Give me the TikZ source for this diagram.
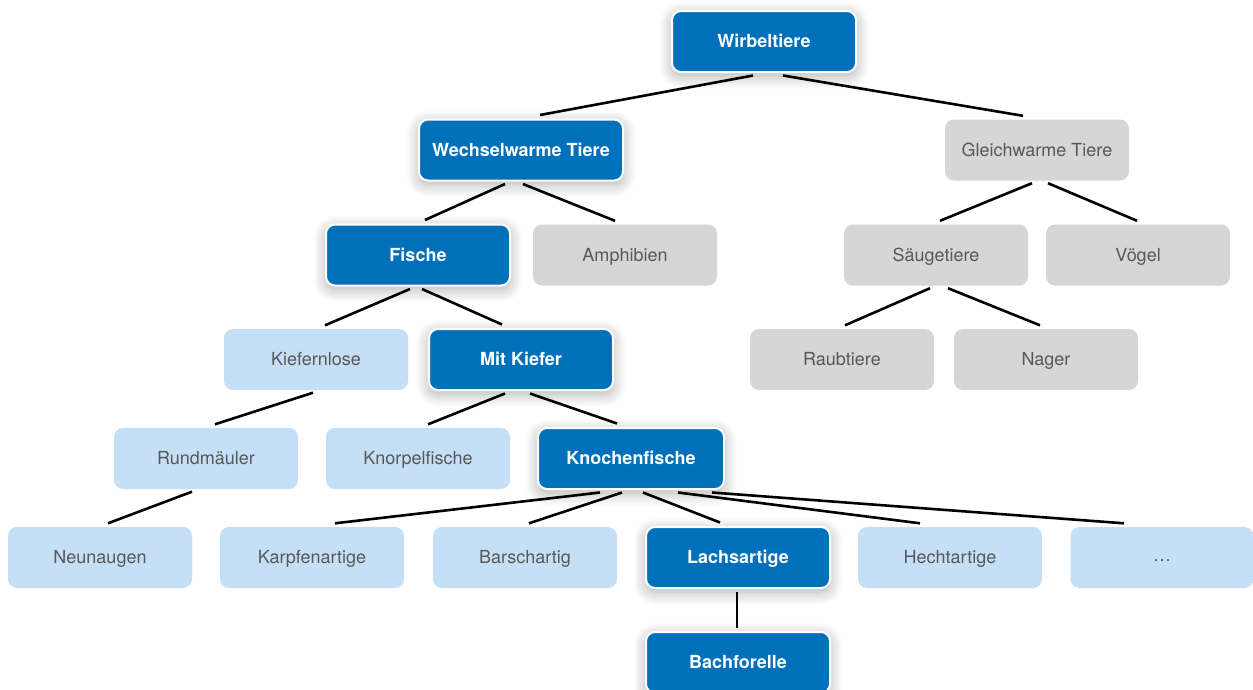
\documentclass[tikz,border=0pt]{standalone}
\usepackage{fontspec}
\setmainfont{TeX Gyre Heros}
\usetikzlibrary{shadows.blur}
\definecolor{dblue}{RGB}{0,112,186}
\definecolor{lblue}{RGB}{197,223,247}
\definecolor{lgray}{RGB}{214,214,214}
\definecolor{tgray}{RGB}{88,88,88}
\tikzset{
  base/.style={rounded corners=9pt, minimum width=184pt, minimum height=61pt,
    inner sep=0pt, text height=12.9pt, text depth=0pt,
    font=\fontsize{18}{21}\selectfont},
  darkbox/.style={base, fill=dblue, draw=white, line width=2pt, text=white,
    font=\fontsize{18}{21}\selectfont\bfseries,
    blur shadow={shadow xshift=0pt, shadow yshift=-4pt, shadow blur radius=13pt, shadow blur steps=12, shadow opacity=32}},
  lightbox/.style={base, fill=lblue, text=tgray},
  greybox/.style={base, fill=lgray, text=tgray},
  conn/.style={line width=2.6pt, black}
}
\begin{document}
\begin{tikzpicture}[x=1pt,y=-1pt]
\useasboundingbox (0,0) rectangle (1253,689);
% row 1
\node[darkbox] (W) at (764,41.5) {Wirbeltiere};
% row 2
\node[darkbox, minimum width=204pt] (WW) at (521,150) {Wechselwarme Tiere};
\node[greybox] (GW) at (1037,150) {Gleichwarme Tiere};
% row 3
\node[darkbox] (F) at (418,255) {Fische};
\node[greybox] (AM) at (625,255) {Amphibien};
\node[greybox] (SG) at (936,255) {Säugetiere};
\node[greybox] (VG) at (1138,255) {Vögel};
% row 4
\node[lightbox] (KL) at (316,359.5) {Kiefernlose};
\node[darkbox] (MK) at (521,359.5) {Mit Kiefer};
\node[greybox] (RT) at (842,359.5) {Raubtiere};
\node[greybox] (NG) at (1046,359.5) {Nager};
% row 5
\node[lightbox] (RM) at (206,458.5) {Rundmäuler};
\node[lightbox] (KP) at (418,458.5) {Knorpelfische};
\node[darkbox, minimum width=186pt] (KN) at (631,458.5) {Knochenfische};
% row 6
\node[lightbox] (NA) at (100,557.5) {Neunaugen};
\node[lightbox] (KA) at (312,557.5) {Karpfenartige};
\node[lightbox] (BA) at (525,557.5) {Barschartig};
\node[darkbox] (LA) at (738,557.5) {Lachsartige};
\node[lightbox] (HA) at (950,557.5) {Hechtartige};
\node[lightbox, minimum width=183pt, text height=7pt] (DD) at (1162,557.5) {…};
% row 7
\node[darkbox] (BF) at (738,662.5) {Bachforelle};
% connectors
\draw[conn] ([xshift=-11pt,yshift=-2.5pt]W.south) -- ([xshift=19pt,yshift=3.5pt]WW.north);
\draw[conn] ([xshift=19pt,yshift=-2.5pt]W.south) -- ([xshift=-14pt,yshift=3.5pt]GW.north);
\draw[conn] ([xshift=-16pt,yshift=-2.5pt]WW.south) -- ([xshift=7pt,yshift=3.5pt]F.north);
\draw[conn] ([xshift=2pt,yshift=-2.5pt]WW.south) -- ([xshift=-10pt,yshift=3.5pt]AM.north);
\draw[conn] ([xshift=-5pt,yshift=-2.5pt]GW.south) -- ([xshift=4pt,yshift=3.5pt]SG.north);
\draw[conn] ([xshift=11pt,yshift=-2.5pt]GW.south) -- ([xshift=-1pt,yshift=3.5pt]VG.north);
\draw[conn] ([xshift=-8pt,yshift=-2.5pt]F.south) -- ([xshift=9pt,yshift=3.5pt]KL.north);
\draw[conn] ([xshift=4pt,yshift=-2.5pt]F.south) -- ([xshift=-19pt,yshift=3.5pt]MK.north);
\draw[conn] ([xshift=-6pt,yshift=-2.5pt]SG.south) -- ([xshift=3pt,yshift=3.5pt]RT.north);
\draw[conn] ([xshift=12pt,yshift=-2.5pt]SG.south) -- ([xshift=-6pt,yshift=3.5pt]NG.north);
\draw[conn] ([xshift=-3pt,yshift=-2.5pt]KL.south) -- ([xshift=9pt,yshift=3.5pt]RM.north);
\draw[conn] ([xshift=-16pt,yshift=-2.5pt]MK.south) -- ([xshift=10pt,yshift=3.5pt]KP.north);
\draw[conn] ([xshift=9pt,yshift=-2.5pt]MK.south) -- ([xshift=-14pt,yshift=3.5pt]KN.north);
\draw[conn] ([xshift=-14pt,yshift=-2.5pt]RM.south) -- ([xshift=8pt,yshift=3.5pt]NA.north);
\draw[conn] ([xshift=-31pt,yshift=-2.5pt]KN.south) -- ([xshift=23pt,yshift=3.5pt]KA.north);
\draw[conn] ([xshift=-9pt,yshift=-2.5pt]KN.south) -- ([xshift=4pt,yshift=3.5pt]BA.north);
\draw[conn] ([xshift=12pt,yshift=-2.5pt]KN.south) -- ([xshift=-18pt,yshift=3.5pt]LA.north);
\draw[conn] ([xshift=47pt,yshift=-2.5pt]KN.south) -- ([xshift=-30pt,yshift=3.5pt]HA.north);
\draw[conn] ([xshift=81pt,yshift=-2.5pt]KN.south) -- ([xshift=-38pt,yshift=3.5pt]DD.north);
\draw[conn] ([xshift=-1pt,yshift=-2.5pt]LA.south) -- ([xshift=-1pt,yshift=3.5pt]BF.north);
\end{tikzpicture}
\end{document}
